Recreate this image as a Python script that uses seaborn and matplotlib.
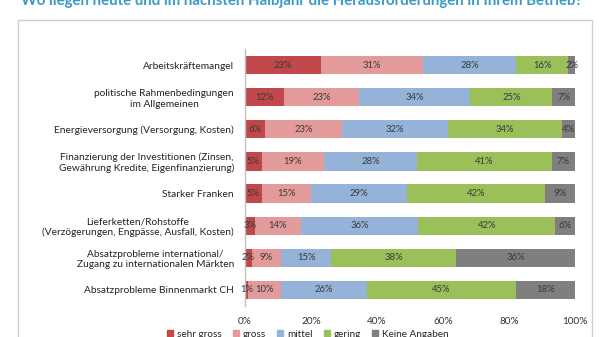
import numpy as np
import pandas as pd
import matplotlib
matplotlib.use("Agg")
import matplotlib.pyplot as plt
import seaborn as sns
from matplotlib.patches import Rectangle, Patch

categories = [
    "Arbeitskräftemangel",
    "politische Rahmenbedingungen\nim Allgemeinen",
    "Energieversorgung (Versorgung, Kosten)",
    "Finanzierung der Investitionen (Zinsen,\nGewährung Kredite, Eigenfinanzierung)",
    "Starker Franken",
    "Lieferketten/Rohstoffe\n(Verzögerungen, Engpässe, Ausfall, Kosten)",
    "Absatzprobleme international/\nZugang zu internationalen Märkten",
    "Absatzprobleme Binnenmarkt CH",
]
series_names = ["sehr gross", "gross", "mittel", "gering", "Keine Angaben"]
sehr_gross = [23, 12, 6, 5, 5, 3, 2, 1]
gross = [31, 23, 23, 19, 15, 14, 9, 10]
mittel = [28, 34, 32, 28, 29, 36, 15, 26]
gering = [16, 25, 34, 41, 42, 42, 38, 45]
keine = [2, 7, 4, 7, 9, 6, 36, 18]
colors = ["#c0484b", "#e29a9a", "#95b3d8", "#9bbf59", "#7f7f7f"]
xticks = [0, 20, 40, 60, 80, 100]
title = "Wo liegen heute und im nächsten Halbjahr die Herausforderungen in Ihrem Betrieb?"

sns.set_theme(style="white")
plt.rcParams["font.family"] = ["Lato", "DejaVu Sans"]

vals = np.array([sehr_gross, gross, mittel, gering, keine], dtype=float)
norm = vals / vals.sum(axis=0) * 100
cum = np.cumsum(norm, axis=0)

fig = plt.figure(figsize=(6, 3.37), dpi=100)
fig.patches.append(Rectangle((18 / 600, -0.1), 574 / 600, 1.1 - 20 / 337,
                             transform=fig.transFigure, fill=False,
                             edgecolor="#cfcfcf", linewidth=1.0))
fig.text(0.503, 0.998, title, ha="center", va="center", fontsize=10.8,
         fontweight="bold", color="#3b9ac8")

ax = fig.add_axes([245 / 600, 1 - 306 / 337, 330 / 600, 257 / 337])
for i in range(len(series_names) - 1, -1, -1):
    df = pd.DataFrame({"cat": categories, "val": cum[i]})
    sns.barplot(data=df, y="cat", x="val", color=colors[i], orient="h",
                width=0.57, ax=ax, saturation=1, edgecolor="none")

for i in range(len(series_names)):
    for j in range(len(categories)):
        left = cum[i][j] - norm[i][j]
        ax.text(left + norm[i][j] / 2, j, f"{int(vals[i][j])}%", ha="center",
                va="center", fontsize=6.8, color="#3a3a3a")

ax.set_xlim(0, 100)
ax.set_xticks(xticks)
ax.set_xticklabels([f"{t}%" for t in xticks], fontsize=7.2, color="#333333")
ax.set_xlabel("")
ax.set_ylabel("")
ax.tick_params(axis="y", labelsize=7.3, colors="#222222", length=0, pad=8)
ax.tick_params(axis="x", length=0, pad=8)
for s in ["top", "right", "bottom"]:
    ax.spines[s].set_visible(False)
ax.spines["left"].set_color("#bfbfbf")
ax.spines["left"].set_linewidth(1.0)
for lbl in ax.get_yticklabels():
    lbl.set_ha("right")
    lbl.set_multialignment("center")

handles = [Patch(color=c, label=n) for c, n in zip(colors, series_names)]
fig.legend(handles=handles, loc="center", bbox_to_anchor=(308 / 600, 0.008),
           ncol=5, frameon=False, fontsize=7.2, handlelength=0.6,
           handleheight=0.6, columnspacing=1.1, handletextpad=0.4)

fig.savefig("out.png", dpi=100)
